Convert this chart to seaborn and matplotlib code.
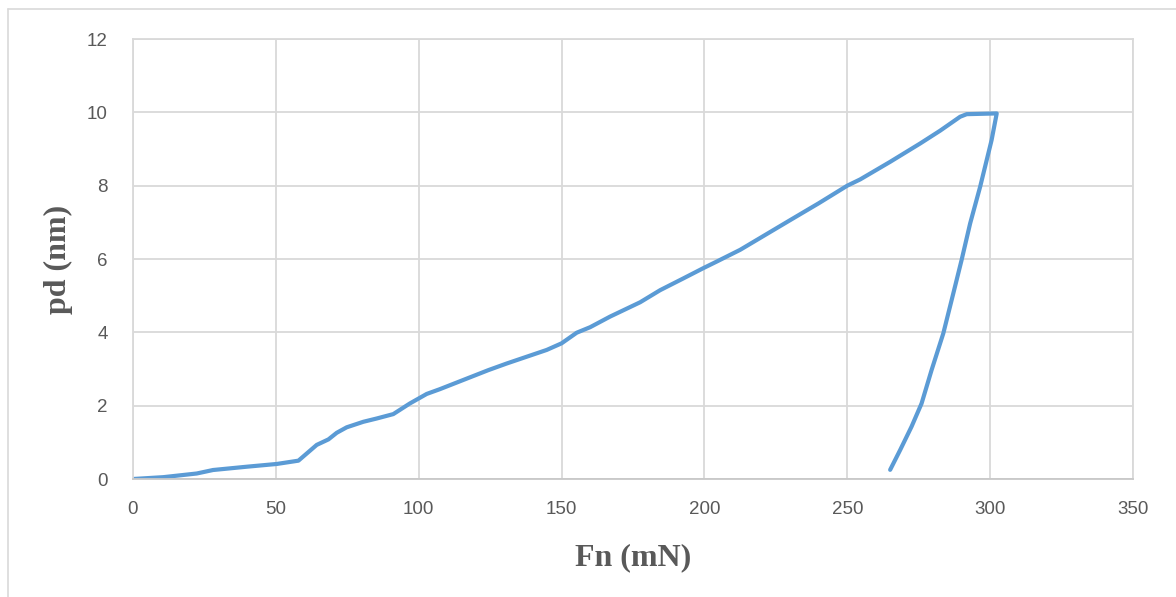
import numpy as np
import pandas as pd
import matplotlib
matplotlib.use("Agg")
import matplotlib.pyplot as plt
from matplotlib.lines import Line2D
import seaborn as sns

# Loading branch: normal force (mN) vs penetration depth (nm)
load_fn = [0, 10.6, 22.3, 28.0, 39.8, 50.3, 57.9, 64.3, 68.4, 71.3, 74.8, 80.6,
           85.3, 91.1, 96.9, 102.8, 107.4, 124.4, 130.8, 144.8, 150.0, 155.3,
           160.0, 167.0, 177.5, 184.5, 192.6, 199.6, 204.3, 212.5, 230.0, 240.0,
           250.0, 254.5, 265.0, 275.5, 282.5, 289.5, 291.8, 302.3]
load_pd = [0, 0.05, 0.15, 0.245, 0.335, 0.41, 0.50, 0.93, 1.08, 1.26, 1.41, 1.56,
           1.65, 1.77, 2.06, 2.32, 2.45, 2.97, 3.15, 3.52, 3.70, 3.99,
           4.14, 4.43, 4.82, 5.15, 5.47, 5.75, 5.93, 6.25, 7.06, 7.52,
           8.00, 8.17, 8.65, 9.15, 9.50, 9.88, 9.95, 9.97]

# Unloading branch
unload_fn = [302.3, 300.5, 298.8, 296.5, 293.0, 290.0, 287.1, 283.6, 279.5,
             276.0, 272.5, 268.5, 265.0]
unload_pd = [9.97, 9.24, 8.70, 7.97, 6.97, 5.97, 5.06, 3.97, 2.97,
             2.06, 1.43, 0.79, 0.25]

x_ticks = [0, 50, 100, 150, 200, 250, 300, 350]
y_ticks = [0, 2, 4, 6, 8, 10, 12]

df = pd.DataFrame({
    "Fn": load_fn + unload_fn,
    "pd": load_pd + unload_pd,
    "order": list(range(len(load_fn) + len(unload_fn))),
})

sns.set_theme(style="white")

line_color = "#5B9BD5"
grid_color = "#D9D9D9"
text_color = "#595959"

fig = plt.figure(figsize=(11.76, 5.97), dpi=100)
ax = fig.add_axes([133 / 1176, 1 - 479 / 597, 1000 / 1176, 440 / 597])

sns.lineplot(data=df, x="Fn", y="pd", sort=False, estimator=None,
             color=line_color, linewidth=3.0, ax=ax,
             solid_capstyle="round", solid_joinstyle="round")

ax.set_xlim(0, 350)
ax.set_ylim(0, 12)
ax.set_xticks(x_ticks)
ax.set_yticks(y_ticks)
ax.grid(True, color=grid_color, linewidth=1.3)
ax.set_axisbelow(True)
for side in ["left", "right", "top", "bottom"]:
    ax.spines[side].set_color(grid_color)
    ax.spines[side].set_linewidth(1.3)
ax.spines["bottom"].set_color("#C8C8C8")

ax.tick_params(axis="both", length=0, labelsize=13.5, colors=text_color)
ax.tick_params(axis="y", pad=18)
ax.tick_params(axis="x", pad=16)
for lbl in ax.get_xticklabels() + ax.get_yticklabels():
    lbl.set_family("Liberation Sans")

ax.set_xlabel("Fn (mN)", family="Liberation Serif", fontweight="bold",
              fontsize=23, color=text_color, labelpad=18)
ax.set_ylabel("pd (nm)", family="Liberation Serif", fontweight="bold",
              fontsize=23, color=text_color, labelpad=10)

# Chart-area frame (left and top edges)
fig.add_artist(Line2D([8 / 1176, 8 / 1176], [0, 1 - 9 / 597],
                      transform=fig.transFigure, color=grid_color, linewidth=1.2))
fig.add_artist(Line2D([8 / 1176, 1], [1 - 9 / 597, 1 - 9 / 597],
                      transform=fig.transFigure, color=grid_color, linewidth=1.2))

fig.savefig("out.png", dpi=100, facecolor="white")
